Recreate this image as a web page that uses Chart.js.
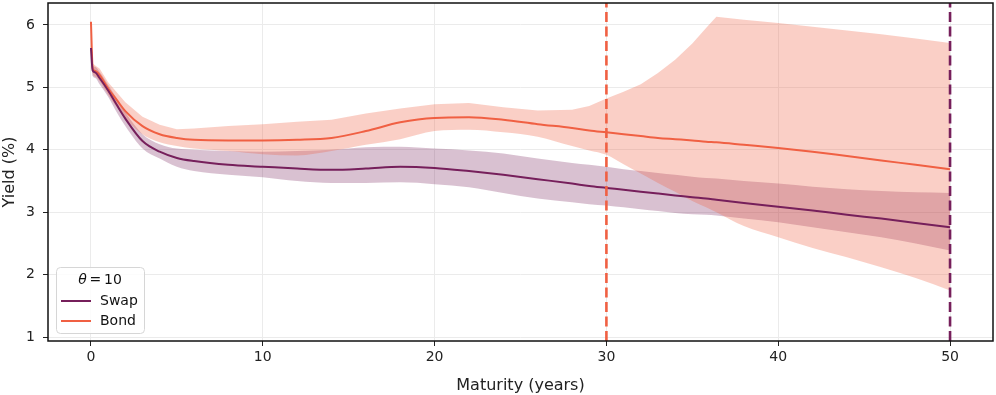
<!DOCTYPE html>
<html>
<head>
<meta charset="utf-8">
<script src="https://cdn.jsdelivr.net/npm/chart.js@4.4.1/dist/chart.umd.min.js"></script>
<style>
html, body { margin: 0; padding: 0; background: #fff; }
#chart { display: block; }
</style>
</head>
<body>
<canvas id="chart" width="996" height="395"></canvas>
<script>
// maturities in years
var maturities = [0, 0.1, 0.25, 0.5, 1, 1.5, 2, 3, 4, 5, 6, 8, 10, 12, 14, 16, 18, 20, 22, 24, 26, 28, 29, 30, 31, 32, 33, 34, 35, 35.8, 36.4, 38, 40, 42, 44, 46, 48, 50];

// swap curve (mid, lower, upper)
var swapMid   = [5.63, 5.27, 5.24, 5.15, 4.95, 4.72, 4.50, 4.14, 3.97, 3.87, 3.82, 3.76, 3.73, 3.70, 3.68, 3.70, 3.73, 3.71, 3.66, 3.60, 3.53, 3.46, 3.42, 3.39, 3.36, 3.33, 3.30, 3.27, 3.24, 3.22, 3.20, 3.15, 3.09, 3.03, 2.96, 2.90, 2.83, 2.76];
var swapLower = [5.60, 5.18, 5.15, 5.05, 4.85, 4.60, 4.38, 4.02, 3.86, 3.73, 3.66, 3.60, 3.56, 3.50, 3.47, 3.47, 3.48, 3.45, 3.40, 3.31, 3.22, 3.16, 3.13, 3.11, 3.08, 3.05, 3.02, 2.99, 2.97, 2.96, 2.95, 2.90, 2.84, 2.76, 2.68, 2.60, 2.50, 2.39];
var swapUpper = [5.65, 5.35, 5.33, 5.25, 5.04, 4.82, 4.60, 4.25, 4.09, 4.02, 4.00, 3.98, 3.97, 3.98, 4.00, 4.04, 4.05, 4.02, 3.99, 3.94, 3.86, 3.79, 3.76, 3.73, 3.69, 3.66, 3.63, 3.60, 3.57, 3.55, 3.54, 3.50, 3.46, 3.41, 3.37, 3.34, 3.32, 3.31];

// bond curve (mid, lower, upper)
var bondMid   = [6.05, 5.30, 5.26, 5.20, 4.98, 4.80, 4.62, 4.38, 4.25, 4.19, 4.16, 4.15, 4.15, 4.16, 4.19, 4.30, 4.44, 4.51, 4.52, 4.48, 4.41, 4.35, 4.31, 4.28, 4.25, 4.22, 4.19, 4.17, 4.15, 4.13, 4.12, 4.08, 4.03, 3.97, 3.90, 3.83, 3.76, 3.69];
var bondLower = [6.03, 5.22, 5.17, 5.10, 4.88, 4.68, 4.50, 4.25, 4.12, 4.06, 4.02, 3.98, 3.93, 3.91, 3.98, 4.08, 4.17, 4.30, 4.32, 4.28, 4.21, 4.06, 3.99, 3.92, 3.77, 3.62, 3.47, 3.33, 3.18, 3.08, 3.00, 2.78, 2.60, 2.43, 2.28, 2.12, 1.95, 1.75];
var bondUpper = [6.07, 5.38, 5.35, 5.30, 5.08, 4.92, 4.76, 4.53, 4.40, 4.33, 4.34, 4.38, 4.41, 4.45, 4.48, 4.58, 4.66, 4.73, 4.75, 4.68, 4.63, 4.64, 4.70, 4.82, 4.93, 5.05, 5.23, 5.44, 5.70, 5.95, 6.13, 6.08, 6.03, 5.97, 5.91, 5.85, 5.78, 5.71];

// longest maturity of each market
var bondMaxMaturity = 30;
var swapMaxMaturity = 50;

var xTicks = [0, 10, 20, 30, 40, 50];
var yTicks = [1, 2, 3, 4, 5, 6];
var xRange = [-2.5, 52.5];
var yRange = [0.94, 6.35];

var swapColor = '#761f5b';
var bondColor = '#f06043';
var swapFill = 'rgba(118, 31, 91, 0.28)';
var bondFill = 'rgba(240, 96, 67, 0.3)';

function pts(ys) {
    return maturities.map(function (m, i) { return { x: m, y: ys[i] }; });
}

Chart.defaults.font.family = "'DejaVu Sans', sans-serif";
Chart.defaults.color = '#222';

// frame around the plot area
var framePlugin = {
    id: 'frame',
    afterDraw: function (chart) {
        var a = chart.chartArea, c = chart.ctx;
        c.save();
        c.strokeStyle = '#111';
        c.lineWidth = 1.5;
        c.strokeRect(a.left, a.top, a.right - a.left, a.bottom - a.top);
        c.restore();
    }
};

// legend box in the lower left corner, with a theta title
var legendPlugin = {
    id: 'boxLegend',
    afterDraw: function (chart) {
        var c = chart.ctx;
        var x0 = 56, y0 = 267, w = 88, h = 66, r = 4;
        c.save();
        c.fillStyle = 'rgba(255,255,255,0.85)';
        c.strokeStyle = '#d6d6d6';
        c.lineWidth = 1;
        c.beginPath();
        c.roundRect(x0 + 0.5, y0 + 0.5, w, h, r);
        c.fill();
        c.stroke();

        // title: italic theta, then " = 10"
        c.textBaseline = 'middle';
        c.fillStyle = '#111';
        var fItal = "italic 14px 'DejaVu Sans'";
        var fNorm = "14px 'DejaVu Sans'";
        c.font = fItal;
        var wTheta = c.measureText('θ').width;
        c.font = fNorm;
        var rest = '\u2009=\u200910';
        var wRest = c.measureText(rest).width;
        var tx = x0 + w / 2 - (wTheta + wRest) / 2;
        c.font = fItal;
        c.fillText('θ', tx, y0 + 13);
        c.font = fNorm;
        c.fillText(rest, tx + wTheta, y0 + 13);

        var items = [chart.data.datasets[4], chart.data.datasets[5]];
        items.forEach(function (ds, i) {
            var y = y0 + 34 + i * 20;
            c.strokeStyle = ds.borderColor;
            c.lineWidth = 2;
            c.beginPath();
            c.moveTo(x0 + 5, y);
            c.lineTo(x0 + 35, y);
            c.stroke();
            c.fillStyle = '#111';
            c.fillText(ds.label, x0 + 44, y);
        });
        c.restore();
    }
};

var bandStyle = { borderWidth: 0, pointRadius: 0, cubicInterpolationMode: 'monotone' };

var chartData = {
    datasets: [
        Object.assign({ label: 'Swap lower', data: pts(swapLower), fill: false, order: 3 }, bandStyle),
        Object.assign({ label: 'Swap upper', data: pts(swapUpper), fill: 0, backgroundColor: swapFill, order: 3 }, bandStyle),
        Object.assign({ label: 'Bond lower', data: pts(bondLower), fill: false, order: 2 }, bandStyle),
        // the upper bond band has a sharp corner, so it is kept straight-segmented
        { label: 'Bond upper', data: pts(bondUpper), fill: 2, backgroundColor: bondFill, order: 2,
          borderWidth: 0, pointRadius: 0, tension: 0 },
        {
            label: 'Swap', data: pts(swapMid), borderColor: swapColor, borderWidth: 2,
            pointRadius: 0, fill: false, cubicInterpolationMode: 'monotone', order: 1
        },
        {
            label: 'Bond', data: pts(bondMid), borderColor: bondColor, borderWidth: 2,
            pointRadius: 0, fill: false, cubicInterpolationMode: 'monotone', order: 1
        },
        {
            label: 'Bond max', data: [{ x: bondMaxMaturity, y: yRange[0] }, { x: bondMaxMaturity, y: yRange[1] }],
            borderColor: bondColor, borderWidth: 2.6, borderDash: [10, 4.5], pointRadius: 0, fill: false, order: 0
        },
        {
            label: 'Swap max', data: [{ x: swapMaxMaturity, y: yRange[0] }, { x: swapMaxMaturity, y: yRange[1] }],
            borderColor: swapColor, borderWidth: 2.6, borderDash: [10, 4.5], pointRadius: 0, fill: false, order: 0
        }
    ]
};

var chartOptions = {
    responsive: false,
    animation: false,
    devicePixelRatio: 1,
    layout: { padding: { top: 3, right: 3, left: 0, bottom: 0 } },
    plugins: {
        legend: { display: false },
        tooltip: { enabled: false }
    },
    scales: {
        x: {
            type: 'linear',
            min: xRange[0],
            max: xRange[1],
            afterBuildTicks: function (scale) {
                scale.ticks = xTicks.map(function (v) { return { value: v }; });
            },
            afterFit: function (scale) {
                scale.height = 54;
                scale.paddingLeft = 0;
                scale.paddingRight = 0;
            },
            grid: { color: '#ebebeb', lineWidth: 1, tickColor: '#222', tickLength: 5, tickWidth: 1 },
            border: { display: false },
            ticks: { font: { size: 14 }, color: '#222', padding: 3, maxRotation: 0 },
            title: { display: true, text: 'Maturity (years)', font: { size: 16 }, color: '#222', padding: { top: 2, bottom: 0 } }
        },
        y: {
            type: 'linear',
            min: yRange[0],
            max: yRange[1],
            afterBuildTicks: function (scale) {
                scale.ticks = yTicks.map(function (v) { return { value: v }; });
            },
            afterFit: function (scale) {
                scale.width = 48;
                scale.paddingTop = 0;
                scale.paddingBottom = 0;
            },
            grid: { color: '#ebebeb', lineWidth: 1, tickColor: '#222', tickLength: 5, tickWidth: 1 },
            border: { display: false },
            ticks: { font: { size: 14 }, color: '#222', padding: 8 },
            title: { display: true, text: 'Yield (%)', font: { size: 16 }, color: '#222', padding: { top: 0, bottom: 0 } }
        }
    }
};

var config = {
    type: 'line',
    data: chartData,
    options: chartOptions,
    plugins: [framePlugin, legendPlugin]
};

var chart = new Chart(document.getElementById('chart'), config);
</script>
</body>
</html>
